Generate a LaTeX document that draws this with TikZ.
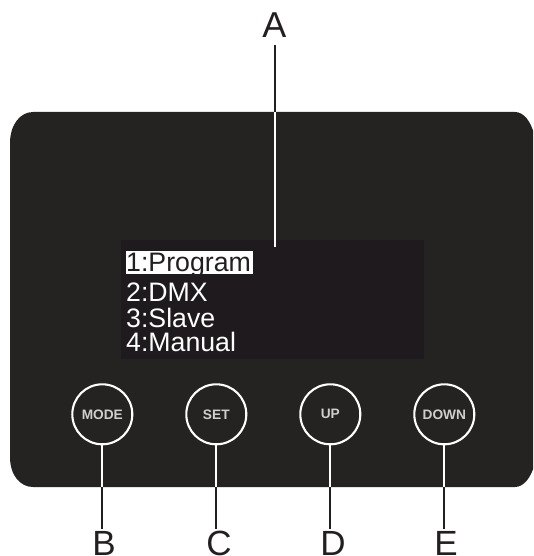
\documentclass[tikz,border=0pt]{standalone}
\usepackage{fontspec}
\setmainfont{Liberation Sans}
\definecolor{panel}{HTML}{242321}
\definecolor{screen}{HTML}{1E1A1D}
\definecolor{ink}{HTML}{231F20}
\definecolor{btntext}{HTML}{CFCFCD}
\tikzset{
  btn/.style={circle,draw=white,line width=2.1pt,minimum size=60pt,inner sep=0pt,text=btntext,font=\fontsize{13.7}{14}\selectfont\bfseries},
  letter/.style={anchor=base,inner sep=0pt,text=ink,font=\fontsize{36}{36}\selectfont},
  lowletter/.style={letter,font=\fontsize{35}{35}\selectfont},
  menu/.style={anchor=base west,inner sep=0pt,font=\fontsize{26.7}{26.7}\selectfont},
  leadout/.style={draw=ink,line width=2pt},
  leadin/.style={draw=white,line width=2pt},
}
\begin{document}
\begin{tikzpicture}[x=1pt,y=-1pt]
\useasboundingbox (0,0) rectangle (533,556);
\begin{scope}
\clip (0,0) rectangle (533,556);
\fill[panel] (10,143) .. controls (10,125) and (20,112) .. (33,112) -- (515,112) .. controls (524,112) and (531,122) .. (534,134) -- (534,466) .. controls (531,477) and (524,487) .. (515,487) -- (33,487) .. controls (20,487) and (10,475) .. (10,457) -- cycle;
\end{scope}
\fill[screen] (121,240) rectangle (424,359);
\fill[white] (125.5,250.5) rectangle (253,274);
\node[menu,text=ink] (m1) at (126,271.7) {1:Program};
\node[menu,text=white] (m2) at (126,301.7) {2:DMX};
\node[menu,text=white] (m3) at (126,327.7) {3:Slave};
\node[menu,text=white] (m4) at (126,351.7) {4:Manual};
\node[btn] (mode) at (102.3,414.3) {MODE};
\node[btn] (set) at (216.3,414.3) {SET};
\node[btn] (up) at (330.3,414.3) {UP};
\node[btn] (down) at (444.3,414.3) {DOWN};
\node[letter] (A) at (274.5,38) {A};
\node[lowletter] (B) at (104,555) {B};
\node[lowletter] (C) at (219,555) {C};
\node[lowletter] (D) at (333,555) {D};
\node[lowletter] (E) at (446,555) {E};
\coordinate (atop) at (274.8,45);
\coordinate (aedge) at (274.8,112.5);
\coordinate (aend) at (274.8,246.5);
\draw[leadout] (atop) -- (aedge);
\draw[leadin] (aedge) -- (aend);
\foreach \b/\x in {mode/102.3,set/216.3,up/330.3,down/444.3}{
  \coordinate (e) at (\x,487);
  \coordinate (l) at (\x,528.5);
  \draw[leadin] (\b.south) -- (e);
  \draw[leadout] (e) -- (l);
}
\end{tikzpicture}
\end{document}
